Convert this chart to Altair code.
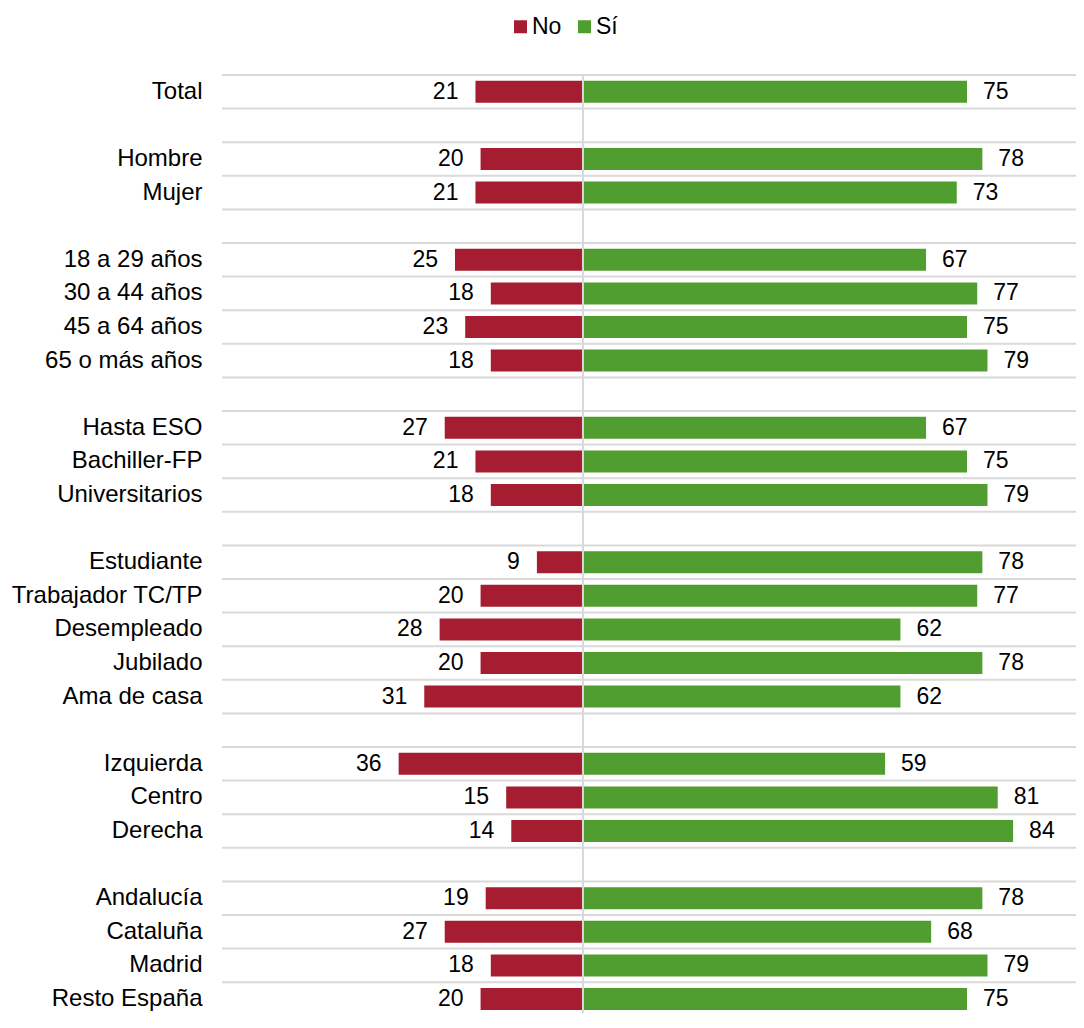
import altair as alt
import pandas as pd

categories = ["Total", " ",
              "Hombre", "Mujer", "  ",
              "18 a 29 años", "30 a 44 años", "45 a 64 años", "65 o más años", "   ",
              "Hasta ESO", "Bachiller-FP", "Universitarios", "    ",
              "Estudiante", "Trabajador TC/TP", "Desempleado", "Jubilado", "Ama de casa", "     ",
              "Izquierda", "Centro", "Derecha", "      ",
              "Andalucía", "Cataluña", "Madrid", "Resto España"]
no_values = [21, None,
             20, 21, None,
             25, 18, 23, 18, None,
             27, 21, 18, None,
             9, 20, 28, 20, 31, None,
             36, 15, 14, None,
             19, 27, 18, 20]
si_values = [75, None,
             78, 73, None,
             67, 77, 75, 79, None,
             67, 75, 79, None,
             78, 77, 62, 78, 62, None,
             59, 81, 84, None,
             78, 68, 79, 75]
series_names = ["No", "Sí"]
series_colors = ["#A61C31", "#509E2F"]

rows = []
for c, n, s in zip(categories, no_values, si_values):
    if n is not None:
        rows.append({"cat": c, "series": "No", "start": -n, "end": 0, "pos": -n, "label": n})
    if s is not None:
        rows.append({"cat": c, "series": "Sí", "start": 0, "end": s, "pos": s, "label": s})
df = pd.DataFrame(rows)
cat_df = pd.DataFrame({"cat": categories})

FONT = "Liberation Sans"
W, H = 854, 938
FULL_W, FULL_H = 862, 33.6 * len(categories)
xscale = alt.Scale(domain=[-70.5, 97.85], nice=False, zero=False, range=[0, FULL_W])
yscale = alt.Scale(domain=categories, paddingInner=0, paddingOuter=0, range=[0, FULL_H])
yaxis = alt.Axis(title=None, domain=False, ticks=False, grid=False, labelFont=FONT,
                 labelFontSize=24, labelColor="black", labelPadding=20, labelLimit=400)


def yenc(**kw):
    return alt.Y("cat:N", scale=yscale, axis=yaxis, sort=categories, **kw)


grid = alt.Chart(cat_df).mark_rule(color="#D9D9D9", strokeWidth=2).encode(
    y=yenc(bandPosition=0),
    x=alt.value(0), x2=alt.value(FULL_W),
)

bars = alt.Chart(df).mark_bar(size=22).encode(
    y=yenc(),
    x=alt.X("start:Q", scale=xscale, axis=None),
    x2="end:Q",
    color=alt.Color("series:N",
                    scale=alt.Scale(domain=series_names, range=series_colors),
                    legend=alt.Legend(title=None, orient="none", direction="horizontal",
                                      legendX=287, legendY=-60, symbolType="square",
                                      symbolSize=169, symbolStrokeWidth=0,
                                      labelFont=FONT, labelFontSize=23, labelColor="black",
                                      labelOffset=0, columnPadding=11, padding=0)),
)

center = alt.Chart(pd.DataFrame({"z": [0]})).mark_rule(color="#D9D9D9", strokeWidth=2).encode(
    x=alt.X("z:Q", scale=xscale, axis=None),
    y=alt.value(0), y2=alt.value(FULL_H),
)

txt_no = alt.Chart(df).transform_filter(alt.datum.series == "No").mark_text(
    align="right", baseline="middle", dx=-17, dy=0, font=FONT, fontSize=23, color="black"
).encode(y=yenc(), x=alt.X("pos:Q", scale=xscale, axis=None), text="label:Q")

txt_si = alt.Chart(df).transform_filter(alt.datum.series == "Sí").mark_text(
    align="left", baseline="middle", dx=16, dy=0, font=FONT, fontSize=23, color="black"
).encode(y=yenc(), x=alt.X("pos:Q", scale=xscale, axis=None), text="label:Q")

chart = alt.layer(grid, bars, center, txt_no, txt_si).properties(
    width=W, height=H,
    autosize=alt.AutoSizeParams(type="none"),
    padding={"left": 214, "top": 67, "right": 0, "bottom": 0},
).configure_view(stroke=None)

chart.save("out.html", embed_options={"renderer": "svg", "actions": False})
